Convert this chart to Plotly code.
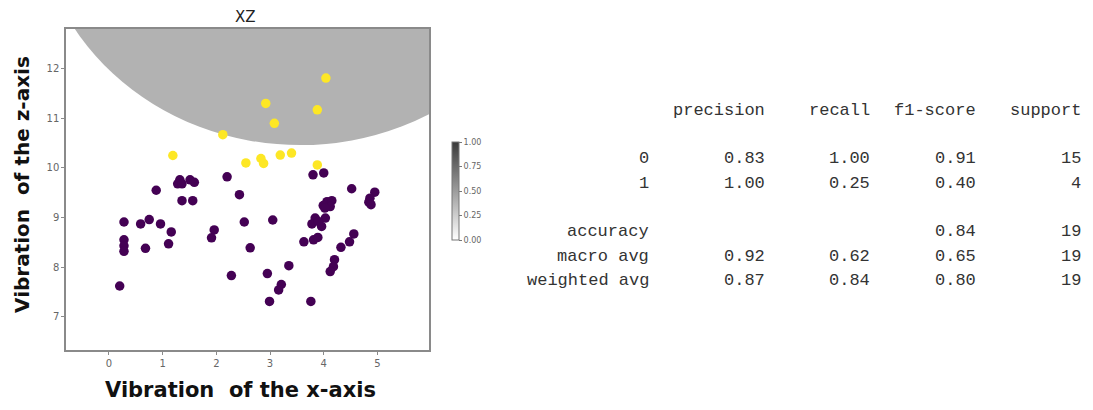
import plotly.graph_objects as go

# ---------------- data ----------------
class0_x = [2.20, 1.32, 1.28, 1.36, 1.51, 1.59, 0.88, 1.36, 1.56, 2.43,
            0.28, 0.59, 0.75, 0.96, 1.16, 0.28, 0.28, 0.28, 0.68, 1.11,
            1.96, 1.91, 2.52, 2.63, 2.28, 0.20, 3.80, 4.00, 4.52, 4.95,
            4.86, 4.84, 4.88, 4.06, 4.15, 3.99, 4.12, 4.02, 3.05, 3.84,
            4.03, 3.78, 3.96, 3.90, 3.63, 3.81, 3.89, 4.56, 4.48, 4.32,
            4.20, 4.18, 4.12, 3.35, 2.95, 3.21, 3.16, 2.99, 3.76]
class0_z = [9.82, 9.76, 9.68, 9.68, 9.76, 9.71, 9.55, 9.34, 9.34, 9.46,
            8.91, 8.87, 8.96, 8.87, 8.71, 8.55, 8.43, 8.32, 8.38, 8.47,
            8.75, 8.59, 8.91, 8.39, 7.83, 7.62, 9.86, 9.90, 9.58, 9.51,
            9.39, 9.31, 9.26, 9.32, 9.34, 9.24, 9.22, 9.19, 8.95, 8.99,
            8.99, 8.87, 8.82, 8.92, 8.51, 8.55, 8.60, 8.67, 8.51, 8.40,
            8.15, 8.01, 7.91, 8.03, 7.87, 7.65, 7.54, 7.31, 7.31]

class1_x = [2.12, 1.19, 2.55, 4.04, 2.92, 3.88, 3.08, 2.83, 2.88, 3.19, 3.40, 3.88]
class1_z = [10.67, 10.25, 10.10, 11.81, 11.30, 11.17, 10.90, 10.19, 10.09, 10.26, 10.30, 10.06]

# decision region (circle in data units): centre and radius
region_cx, region_cz, region_r = 3.56, 15.39, 4.93

x_ticks = [0, 1, 2, 3, 4, 5]
z_ticks = [7, 8, 9, 10, 11, 12]
x_range = [-0.80, 5.96]
z_range = [6.33, 12.80]

cbar_ticks = [0.0, 0.25, 0.5, 0.75, 1.0]
cbar_labels = ["0.00", "0.25", "0.50", "0.75", "1.00"]

# classification report
report_header = ["precision", "recall", "f1-score", "support"]
report_rows = ["0", "1", "accuracy", "macro avg", "weighted avg"]
precision = ["0.83", "1.00", "", "0.92", "0.87"]
recall = ["1.00", "0.25", "", "0.62", "0.84"]
f1_score = ["0.91", "0.40", "0.84", "0.65", "0.80"]
support = ["15", "4", "19", "19", "19"]

# ---------------- layout helpers ----------------
OFF = 8  # page body margin
W, H = 1093 - 2 * OFF, 410 - 2 * OFF
# plot area in screenshot pixels
L, R, T, B = 66 - OFF, 429 - OFF, 29 - OFF, 350 - OFF
PW, PH = R - L, B - T


def px(xs):
    return (xs - OFF - L) / PW


def py(ys):
    return (B - (ys - OFF)) / PH


fig = go.Figure()

fig.add_trace(go.Scatter(
    x=class0_x, y=class0_z, mode="markers",
    marker=dict(color="#440154", size=9.5, line=dict(width=0)),
    showlegend=False, hoverinfo="skip"))
fig.add_trace(go.Scatter(
    x=class1_x, y=class1_z, mode="markers",
    marker=dict(color="#fde725", size=9.5, line=dict(width=0)),
    showlegend=False, hoverinfo="skip"))

# colorbar holder
fig.add_trace(go.Scatter(
    x=[None], y=[None], mode="markers",
    marker=dict(color=[0, 1], cmin=0, cmax=1,
                colorscale=[[0, "#ffffff"], [1, "#3a3a3a"]],
                showscale=True,
                colorbar=dict(
                    x=px(452), xanchor="left", xpad=0,
                    y=py(191), yanchor="middle", ypad=0,
                    lenmode="pixels", len=98,
                    thickness=7, outlinewidth=1, outlinecolor="#777",
                    tickvals=cbar_ticks, ticktext=cbar_labels,
                    ticks="outside", ticklen=3, tickcolor="#777",
                    tickfont=dict(size=8, color="#666", family="DejaVu Sans"))),
    showlegend=False, hoverinfo="skip"))

fig.add_shape(type="circle", xref="x", yref="y",
              x0=region_cx - region_r, x1=region_cx + region_r,
              y0=region_cz - region_r, y1=region_cz + region_r,
              fillcolor="#b2b2b2", line=dict(width=0), layer="below")

axis_common = dict(showgrid=False, zeroline=False, showline=True, mirror=True,
                   linecolor="#8a8a8a", linewidth=1.5, ticks="outside",
                   ticklen=3, tickcolor="#8a8a8a",
                   tickfont=dict(size=10, color="#666", family="DejaVu Sans"))

fig.update_xaxes(range=x_range, tickvals=x_ticks, **axis_common)
fig.update_yaxes(range=z_range, tickvals=z_ticks, **axis_common)

annotations = []
# title
annotations.append(dict(text="XZ", x=px(245), y=py(17), xref="paper", yref="paper",
                        showarrow=False, xanchor="center", yanchor="middle",
                        font=dict(size=15, color="#222", family="DejaVu Sans")))
# axis titles
gap = "\u00a0\u00a0"
annotations.append(dict(text="Vibration" + gap + "of the x-axis", x=px(240), y=py(390),
                        xref="paper", yref="paper", showarrow=False,
                        xanchor="center", yanchor="middle",
                        font=dict(size=21, color="#111", family="DejaVu Sans", weight="bold")))
annotations.append(dict(text="Vibration" + gap + "of the z-axis", x=px(22), y=py(185),
                        xref="paper", yref="paper", showarrow=False, textangle=-90,
                        xanchor="center", yanchor="middle",
                        font=dict(size=20, color="#111", family="DejaVu Sans", weight="bold")))

# classification report text
mono = dict(size=17, color="#333", family="Liberation Mono")
col_right = [767, 872, 978, 1083]
label_right = 651
header_y = 110
row_y = [158, 183, 231, 256, 280]
for cx, h in zip(col_right, report_header):
    annotations.append(dict(text=h, x=px(cx), y=py(header_y), xref="paper", yref="paper",
                            showarrow=False, xanchor="right", yanchor="middle", font=mono))
cols = [precision, recall, f1_score, support]
for i, name in enumerate(report_rows):
    annotations.append(dict(text=name, x=px(label_right), y=py(row_y[i]), xref="paper",
                            yref="paper", showarrow=False, xanchor="right",
                            yanchor="middle", font=mono))
    for cx, col in zip(col_right, cols):
        if col[i]:
            annotations.append(dict(text=col[i], x=px(cx), y=py(row_y[i]), xref="paper",
                                    yref="paper", showarrow=False, xanchor="right",
                                    yanchor="middle", font=mono))

fig.update_layout(
    width=W, height=H,
    margin=dict(l=L, r=W - R, t=T, b=H - B, pad=0),
    paper_bgcolor="white", plot_bgcolor="white",
    annotations=annotations,
)

fig.write_html("out.html")
